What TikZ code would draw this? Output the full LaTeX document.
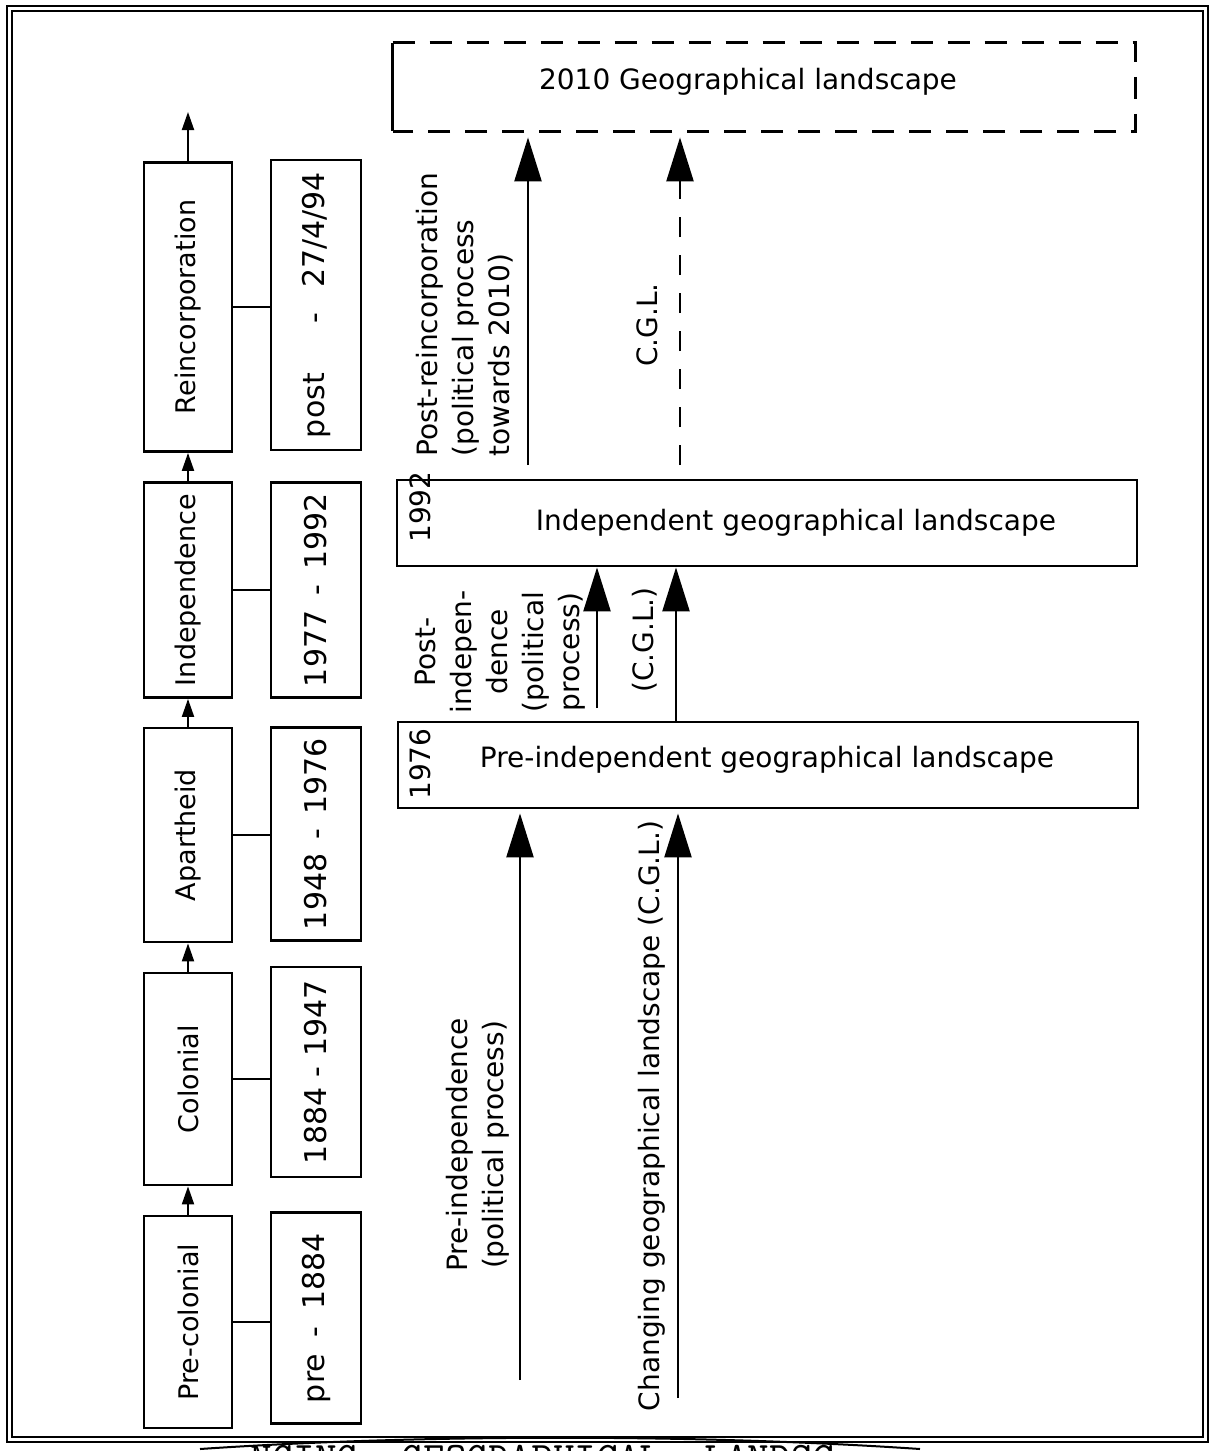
\documentclass[tikz,border=0pt]{standalone}
\usepackage{fontspec}
\setmainfont{DejaVu Sans}
\usetikzlibrary{arrows.meta}
\newcommand*{\yearspan}[2]{\rotatebox{90}{\makebox[#1]{#2}}}

\begin{document}
\begin{tikzpicture}[x=0.5pt,y=-0.5pt,
    period/.style={draw,line width=1.4pt,minimum width=44pt,inner sep=0pt,
        font=\fontsize{13.5}{16}\selectfont},
    dates/.style={draw,line width=1.4pt,minimum width=45pt,inner sep=0pt,
        font=\fontsize{15}{18}\selectfont},
    land/.style={draw,line width=1.4pt,minimum width=370pt,minimum height=43pt,inner sep=0pt},
    boxtext/.style={inner sep=0pt,font=\fontsize{14}{17}\selectfont},
    note/.style={inner sep=0pt,rotate=90,font=\fontsize{14}{18}\selectfont},
    tie/.style={line width=1pt},
    smallarrow/.style={line width=1pt,-{Triangle[length=9pt,width=6pt]}},
    bigarrow/.style={line width=1.2pt,-{Triangle[length=22pt,width=13.5pt]},shorten >=2pt}]

\useasboundingbox (0,0) rectangle (1212,1451);

%frame
\draw [line width=1pt] (7,6) rectangle (1208,1442);
\draw [line width=1.4pt] (12,11) rectangle (1203,1437);
\draw [line width=1pt] (200,1449) .. controls (420,1434) and (700,1434) .. (920,1449);
\begin{scope}
\clip (0,1444) rectangle (1212,1451);
\node [anchor=base west,inner sep=0pt,font=\fontsize{21}{24}\ttfamily] (caption) at (250,1471)
    {NGING\ \ GEOGRAPHICAL\ \ LANDSC};
\end{scope}

%periods
\node [period,minimum height=144.5pt] (reinc) at (188,307) {\rotatebox{90}{Reincorporation}};
\node [period,minimum height=107.5pt] (indep) at (188,590) {\rotatebox{90}{Independence}};
\node [period,minimum height=107pt] (apart) at (188,835) {\rotatebox{90}{Apartheid}};
\node [period,minimum height=106pt] (colon) at (188,1079) {\rotatebox{90}{Colonial}};
\node [period,minimum height=106pt] (precol) at (188,1322) {\rotatebox{90}{Pre-colonial}};

%dates
\node [dates,minimum height=145pt] (dreinc) at (316,305) {\yearspan{133pt}{post\hfill\hfill-\hfill27/4/94}};
\node [dates,minimum height=107.5pt] (dindep) at (316,590) {\yearspan{97pt}{1977\hfill-\hfill1992}};
\node [dates,minimum height=106.5pt] (dapart) at (316,834) {\yearspan{96pt}{1948\hfill-\hfill1976}};
\node [dates,minimum height=105pt] (dcolon) at (316,1072) {\yearspan{92pt}{1884\hfill-\hfill1947}};
\node [dates,minimum height=105.5pt] (dprecol) at (316,1318) {\yearspan{85pt}{pre\hfill-\hfill1884}};

\draw [tie] (reinc.east) -- (reinc.east -| dreinc.west);
\draw [tie] (indep.east) -- (indep.east -| dindep.west);
\draw [tie] (apart.east) -- (apart.east -| dapart.west);
\draw [tie] (colon.east) -- (colon.east -| dcolon.west);
\draw [tie] (precol.east) -- (precol.east -| dprecol.west);

\coordinate (onward) at (188,112);
\draw [smallarrow] (precol.north) -- (colon.south);
\draw [smallarrow] (colon.north) -- (apart.south);
\draw [smallarrow] (apart.north) -- (indep.south);
\draw [smallarrow] (indep.north) -- (reinc.south);
\draw [smallarrow] (reinc.north) -- (onward);

%landscapes
\node [land,draw=none] (goal) at (764,87) {};
\draw [line width=1.4pt,dash pattern=on 11pt off 7.5pt] (goal.north west) -- (goal.north east) -- (goal.south east) -- (goal.south west);
\draw [line width=1.4pt] (goal.north west) -- (goal.south west);
\node [boxtext] (goaltxt) at (748,82) {2010 Geographical landscape};

\node [land] (indland) at (767,523) {};
\node [boxtext] (indtxt) at (796,523) {Independent geographical landscape};
\node [boxtext,rotate=90] (y1992) at (420,507) {1992};

\node [land] (preland) at (768,765) {};
\node [boxtext] (pretxt) at (767,760) {Pre-independent geographical landscape};
\node [boxtext,rotate=90] (y1976) at (420,764) {1976};

%processes
\coordinate (polA) at (520,1380);
\coordinate (cglA) at (678,1398);
\draw [bigarrow] (polA) -- (polA |- preland.south);
\draw [bigarrow] (cglA) -- (cglA |- preland.south);

\coordinate (polB) at (597,708);
\coordinate (cglB) at (676,0);
\draw [bigarrow,shorten >=0pt] (polB) -- (polB |- indland.south);
\draw [bigarrow,shorten >=0pt] (preland.north -| cglB) -- (indland.south -| cglB);

\coordinate (polC) at (528,465);
\coordinate (cglC) at (680,465);
\draw [bigarrow,shorten >=3pt] (polC) -- (polC |- goal.south);
\draw [bigarrow,shorten >=3pt,dash pattern=on 10pt off 9pt] (cglC) -- (cglC |- goal.south);

\node [note,anchor=west,align=left] (postreinc) at (465,457) {Post-reincorporation\\(political process\\towards 2010)};
\node [note] (cglnote) at (647,325) {C.G.L.};
\node [note,align=center] (postindep) at (500,652) {Post-\\indepen-\\dence\\(political\\process)};
\node [note] (cglmid) at (645,640) {(C.G.L.)};
\node [note,align=center] (preindep) at (478,1145) {Pre-independence\\(political process)};
\node [note] (changing) at (652,1116) {Changing geographical landscape (C.G.L.)};
\end{tikzpicture}
\end{document}
